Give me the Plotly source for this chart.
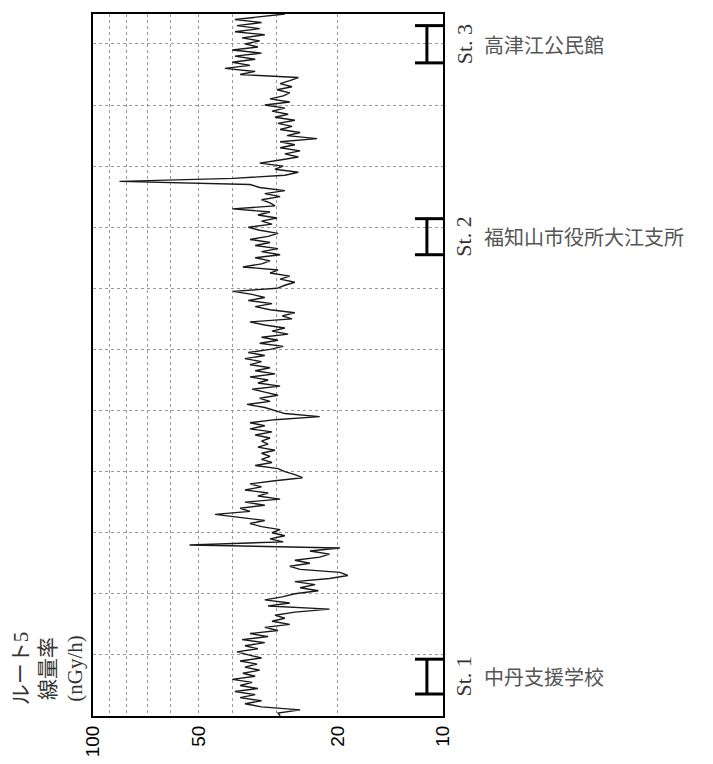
import plotly.graph_objects as go

# Distance along route (km) and dose rate (nGy/h)
distance = [0.00, 0.05, 0.10, 0.15, 0.20, 0.25, 0.30, 0.35, 0.40, 0.45,
            0.50, 0.55, 0.60, 0.65, 0.70, 0.75, 0.80, 0.85, 0.90, 0.95,
            1.00, 1.05, 1.10, 1.15, 1.20, 1.25, 1.30, 1.35, 1.40, 1.45,
            1.50, 1.55, 1.60, 1.65, 1.70, 1.75, 1.80, 1.85, 1.90, 1.95,
            2.00, 2.05, 2.10, 2.15, 2.20, 2.25, 2.30, 2.35, 2.40, 2.45,
            2.50, 2.55, 2.60, 2.65, 2.70, 2.75, 2.80, 2.85, 2.90, 2.95,
            3.00, 3.05, 3.10, 3.15, 3.20, 3.25, 3.30, 3.35, 3.40, 3.45,
            3.50, 3.55, 3.60, 3.65, 3.70, 3.75, 3.80, 3.85, 3.90, 3.95,
            4.00, 4.05, 4.10, 4.15, 4.20, 4.25, 4.30, 4.35, 4.40, 4.45,
            4.50, 4.55, 4.60, 4.65, 4.70, 4.75, 4.80, 4.85, 4.90, 4.95,
            5.00, 5.05, 5.10, 5.15, 5.20, 5.25, 5.30, 5.35, 5.40, 5.45,
            5.50, 5.55, 5.60, 5.65, 5.70, 5.75, 5.80, 5.85, 5.90, 5.95,
            6.00, 6.05, 6.10, 6.15, 6.20, 6.25, 6.30, 6.35, 6.40, 6.45,
            6.50, 6.55, 6.60, 6.65, 6.70, 6.75, 6.80, 6.85, 6.90, 6.95,
            7.00, 7.05, 7.10, 7.15, 7.20, 7.25, 7.30, 7.35, 7.40, 7.45,
            7.50, 7.55, 7.60, 7.65, 7.70, 7.75, 7.80, 7.85, 7.90, 7.95,
            8.00, 8.05, 8.10, 8.15, 8.20, 8.25, 8.30, 8.35, 8.40, 8.45,
            8.50, 8.55, 8.60, 8.65, 8.70, 8.75, 8.80, 8.85, 8.90, 8.95,
            9.00, 9.05, 9.10, 9.15, 9.20, 9.25, 9.30, 9.35, 9.40, 9.45,
            9.50, 9.55, 9.60, 9.65, 9.70, 9.75, 9.80, 9.85, 9.90, 9.95,
            10.00, 10.05, 10.10, 10.15, 10.20, 10.25, 10.30, 10.35, 10.40, 10.45,
            10.50, 10.55, 10.60, 10.65, 10.70, 10.75, 10.80, 10.85, 10.90, 10.95,
            11.00, 11.05, 11.10, 11.15, 11.20, 11.25, 11.30, 11.35, 11.40, 11.49]

dose_rate = [29.2, 29.6, 25.6, 33.0, 36.8, 33.0, 38.0, 34.4, 39.3, 33.8,
             38.0, 35.1, 40.0, 34.4, 37.3, 33.4, 36.8, 34.0, 38.0, 33.0,
             36.0, 38.8, 33.8, 36.8, 32.3, 37.5, 31.6, 35.6, 29.6, 32.3,
             27.4, 30.8, 28.3, 30.2, 26.5, 21.1, 31.6, 27.4, 32.3, 28.8,
             26.5, 22.7, 25.6, 23.2, 26.5, 21.1, 18.7, 19.7, 25.6, 27.4,
             24.0, 26.5, 22.5, 21.1, 24.0, 19.7, 53.0, 28.6, 31.2, 28.3,
             30.8, 29.2, 33.0, 35.6, 32.3, 38.8, 44.8, 35.6, 38.0, 32.3,
             36.8, 29.2, 33.8, 31.6, 36.8, 33.0, 35.6, 30.2, 25.2, 26.5,
             28.3, 29.6, 34.4, 30.8, 33.0, 31.2, 33.0, 30.2, 33.8, 31.6,
             33.0, 31.2, 34.4, 30.8, 35.6, 32.3, 35.6, 30.2, 22.5, 28.3,
             30.2, 32.3, 36.3, 31.2, 33.4, 29.6, 32.3, 35.1, 29.2, 33.8,
             31.6, 35.6, 30.2, 34.4, 31.2, 35.6, 33.0, 36.8, 32.3, 36.0,
             31.2, 28.6, 33.4, 29.6, 33.0, 27.7, 30.8, 28.3, 32.3, 35.6,
             27.0, 28.8, 26.5, 31.2, 34.4, 30.8, 36.0, 32.3, 35.1, 39.8,
             29.8, 28.3, 26.5, 29.2, 27.4, 31.2, 29.6, 37.3, 33.0, 31.2,
             34.4, 29.2, 33.0, 29.6, 34.4, 31.2, 35.6, 31.6, 29.6, 33.4,
             36.0, 30.8, 33.0, 29.8, 33.8, 31.2, 40.0, 30.2, 31.2, 33.0,
             29.2, 32.3, 28.3, 33.4, 35.6, 84.0, 39.8, 28.3, 25.9, 30.2,
             28.6, 33.4, 29.2, 25.9, 28.3, 25.6, 29.2, 26.5, 29.2, 22.9,
             27.9, 25.6, 29.2, 27.0, 29.6, 26.5, 30.2, 27.7, 30.8, 28.3,
             32.3, 27.4, 31.2, 28.6, 27.4, 29.8, 27.0, 29.2, 27.4, 25.9,
             38.0, 34.4, 42.0, 35.6, 40.0, 34.4, 39.3, 33.0, 40.0, 33.8,
             36.8, 33.4, 37.5, 32.3, 39.3, 33.4, 38.8, 33.0, 39.3, 28.3]

# Stations: label, Japanese name, start/end of measurement interval (km)
station_labels = ["St. 1", "St. 2", "St. 3"]
station_names = ["中丹支援学校", "福知山市役所大江支所", "高津江公民館"]
station_start = [0.36, 7.55, 10.69]
station_end = [0.93, 8.14, 11.30]

x_ticks = [10, 20, 30, 40, 50, 60, 70, 80, 90, 100]
x_ticktext = ["10", "20", "", "", "50", "", "", "", "", "100"]

fig = go.Figure()
fig.add_trace(go.Scatter(
    x=dose_rate, y=distance, mode="lines",
    line=dict(color="#1a1a1a", width=1.4),
    showlegend=False, hoverinfo="skip"))

# page body has an 8px margin, so the figure is sized/offset accordingly
fig.update_layout(
    width=705, height=756,
    margin=dict(l=85, r=270, t=4, b=48),
    paper_bgcolor="white", plot_bgcolor="white",
    showlegend=False,
    xaxis=dict(
        type="log", range=[2, 1],
        tickvals=x_ticks, ticktext=x_ticktext,
        tickangle=-90,
        tickfont=dict(family="Liberation Sans", size=19, color="black"),
        showgrid=True, gridcolor="#999999", griddash="dot", gridwidth=1,
        showline=True, linecolor="black", linewidth=2, mirror=True,
        ticks="", zeroline=False),
    yaxis=dict(
        range=[0, 11.49], dtick=1, tick0=0,
        showticklabels=False,
        showgrid=True, gridcolor="#999999", griddash="dot", gridwidth=1,
        showline=True, linecolor="black", linewidth=2, mirror=True,
        ticks="", zeroline=False),
)

shapes = []
annotations = []
for lab, name, s, e in zip(station_labels, station_names, station_start, station_end):
    shapes.append(dict(type="line", xref="x domain", yref="y",
                       x0=0.954, x1=0.954, y0=s, y1=e,
                       line=dict(color="black", width=3)))
    for yy in (s, e):
        shapes.append(dict(type="line", xref="x domain", yref="y",
                           x0=0.92, x1=1.0, y0=yy, y1=yy,
                           line=dict(color="black", width=3)))
    mid = (s + e) / 2
    annotations.append(dict(
        text=lab, xref="paper", yref="y", x=(464 - 93) / 350, y=mid,
        textangle=-90, showarrow=False, xanchor="center", yanchor="middle",
        font=dict(family="Liberation Serif", size=22, color="#333")))
    annotations.append(dict(
        text=name, xref="paper", yref="y", x=(482 - 93) / 350, y=mid,
        showarrow=False, xanchor="left", yanchor="middle",
        font=dict(family="Noto Sans CJK JP", size=20, color="#555")))

annotations.append(dict(
    text="ルート5<br>線量率<br>(nGy/h)", xref="paper", yref="paper",
    x=(48 - 93) / 350, y=(716 - 668) / 704,
    textangle=-90, showarrow=False, xanchor="center", yanchor="middle",
    align="center", borderpad=0,
    font=dict(family="Liberation Serif, Noto Sans CJK JP", size=21, color="#333")))

fig.update_layout(shapes=shapes, annotations=annotations)
fig.write_html("out.html")
